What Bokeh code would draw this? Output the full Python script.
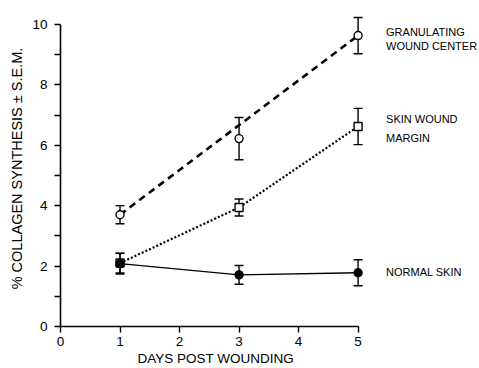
import math
from bokeh.plotting import figure
from bokeh.models import ColumnDataSource, Whisker, TeeHead, FixedTicker, Label, Range1d, Title
from bokeh.embed import file_html
from bokeh.resources import INLINE

days = [1, 3, 5]
granulating = [3.70, 6.22, 9.63]
granulating_sem = [0.30, 0.70, 0.60]
margin = [2.10, 3.94, 6.62]
margin_sem = [0.33, 0.28, 0.60]
normal = [2.08, 1.71, 1.78]
normal_sem = [0.34, 0.31, 0.43]
series_labels = [["GRANULATING", "WOUND CENTER"], ["SKIN WOUND", "MARGIN"], ["NORMAL SKIN"]]
x_ticks = [0, 1, 2, 3, 4, 5]
y_ticks = [0, 2, 4, 6, 8, 10]
y_minor = [1, 3, 5, 7, 9]

FONT = "Liberation Sans"

p = figure(width=479, height=368, output_backend="svg", toolbar_location=None,
           x_range=Range1d(0, 7.04), y_range=Range1d(0, 10.46))
p.min_border_left = 60
p.min_border_right = 0
p.min_border_top = 10
p.min_border_bottom = 42
p.outline_line_color = None
p.xgrid.visible = False
p.ygrid.visible = False
p.background_fill_color = "white"
p.border_fill_color = "white"

for ax in (p.xaxis[0], p.yaxis[0]):
    ax.axis_line_width = 1.6
    ax.axis_line_color = "black"
    ax.major_tick_line_color = "black"
    ax.major_tick_line_width = 1.4
    ax.minor_tick_line_color = "black"
    ax.minor_tick_line_width = 1.4
    ax.major_tick_in = 0
    ax.major_tick_out = 6
    ax.minor_tick_in = 0
    ax.minor_tick_out = 6
    ax.major_label_text_font = FONT
    ax.major_label_text_font_size = "13.5px"
    ax.major_label_text_color = "black"
    ax.axis_label_text_font = FONT
    ax.axis_label_text_font_style = "normal"
    ax.axis_label_text_color = "black"

p.xaxis[0].major_label_standoff = 4
p.yaxis[0].major_label_standoff = 7
p.yaxis[0].axis_label_standoff = 4
p.yaxis[0].axis_label_text_font_size = "14.5px"
p.yaxis[0].axis_label = "% COLLAGEN SYNTHESIS \u00b1 S.E.M."

p.xaxis[0].ticker = FixedTicker(ticks=x_ticks, minor_ticks=[])
p.xaxis[0].bounds = (0, 5)
p.yaxis[0].ticker = FixedTicker(ticks=y_ticks, minor_ticks=y_minor)
p.yaxis[0].bounds = (0, 10)

p.add_layout(Title(text="DAYS POST WOUNDING", align="left", offset=77, standoff=0,
                   text_font=FONT, text_font_size="13.5px", text_font_style="normal",
                   text_color="black"), "below")

# Granulating wound center: straight dashed line day 1 -> day 5
p.line([days[0], days[-1]], [granulating[0], granulating[-1]], line_color="black",
       line_width=2.6, line_dash="7 5")
# Skin wound margin: dotted line through points
p.line(days, margin, line_color="black", line_width=2.2, line_dash="2 2")
# Normal skin: solid
p.line(days, normal, line_color="black", line_width=1.4)

def add_err(vals, sems):
    src = ColumnDataSource(dict(x=days, lo=[v - s for v, s in zip(vals, sems)],
                                hi=[v + s for v, s in zip(vals, sems)]))
    w = Whisker(base="x", lower="lo", upper="hi", source=src, dimension="height",
                line_color="black", line_width=1.4,
                upper_head=TeeHead(size=9, line_color="black", line_width=1.4),
                lower_head=TeeHead(size=9, line_color="black", line_width=1.4))
    p.add_layout(w)

add_err(granulating, granulating_sem)
add_err(margin, margin_sem)
add_err(normal, normal_sem)

p.scatter(days, granulating, marker="circle", size=8, fill_color="white",
          line_color="black", line_width=1.4)
p.scatter(days, margin, marker="square", size=8, fill_color="white",
          line_color="black", line_width=1.4)
p.scatter(days, normal, marker="circle", size=8, fill_color="black",
          line_color="black", line_width=1.4)

# series labels to the right of day 5
label_x = 5.47
label_y = [[9.76, 9.30], [6.88, 6.25], [1.81]]
for lines, ys in zip(series_labels, label_y):
    for txt, yy in zip(lines, ys):
        p.add_layout(Label(x=label_x, y=yy, text=txt, text_font=FONT,
                           text_font_size="11px", text_baseline="middle",
                           text_align="left", text_color="black"))

open("out.html", "w").write(file_html(p, INLINE))
